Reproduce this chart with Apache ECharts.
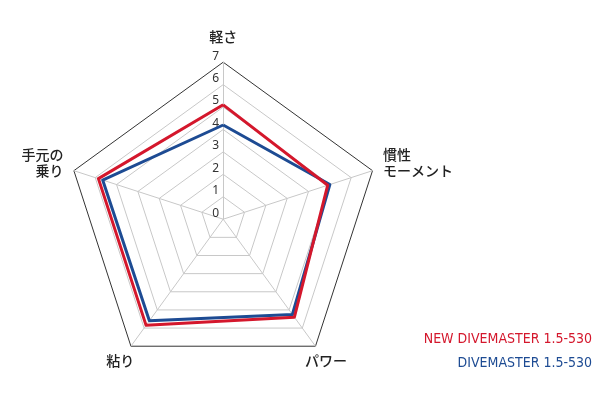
<!DOCTYPE html>
<html><head><meta charset="utf-8">
<script src="https://cdn.jsdelivr.net/npm/echarts@6/dist/echarts.min.js"></script>
<style>html,body{margin:0;padding:0;background:#fff}#c{width:600px;height:400px}</style>
</head><body><div id="c"></div>
<script>
// indicators listed counter-clockwise from the top (ECharts radar order)
const indicators = ['軽さ', '手元の\n乗り', '粘り', 'パワー', '慣性\nモーメント'];
const centeredNames = ['軽さ', '粘り', 'パワー'];
const axisMax = 7;
const seriesNames = ['NEW DIVEMASTER 1.5-530', 'DIVEMASTER 1.5-530'];
const newValues = [5.1, 5.85, 5.85, 5.4, 4.9];
const oldValues = [4.2, 5.65, 5.6, 5.25, 5.0];
const colors = ['#d4172c', '#1d4b93'];

const chart = echarts.init(document.getElementById('c'));
const ringColors = ['#c8c8c8','#c8c8c8','#c8c8c8','#c8c8c8','#c8c8c8','#c8c8c8','#c8c8c8','#333333'];
const nameFont = { color: '#222', fontSize: 14, fontWeight: 500, fontFamily: 'Noto Sans CJK JP', lineHeight: 16 };
const common = { center: ['37.2%', '54.8%'], radius: 157, startAngle: 90, splitNumber: 7, shape: 'polygon' };
chart.setOption({
  animation: false,
  radar: [
    Object.assign({}, common, {
      nameGap: 11,
      axisName: Object.assign({}, nameFont, {
        formatter: n => n ? n + '\n{s|}' : '',
        rich: { s: { lineHeight: 10, fontSize: 10 } }
      }),
      indicator: indicators.map((n, i) => ({
        name: centeredNames.includes(n) ? '' : n, min: 0, max: axisMax,
        axisLabel: i === 0 ? { show: true, showMinLabel: true, showMaxLabel: true, hideOverlap: false, color: '#333', fontSize: 12, fontFamily: 'Noto Sans', margin: 4, verticalAlign: 'bottom' } : { show: false }
      })),
      axisLine: { lineStyle: { color: '#c8c8c8', width: 1 } },
      splitLine: { lineStyle: { color: ringColors, width: 1 } },
      splitArea: { show: false },
      axisTick: { show: false },
      axisLabel: { show: false }
    }),
    Object.assign({}, common, {
      nameGap: 18,
      axisName: Object.assign({}, nameFont, { align: 'center' }),
      indicator: indicators.map(n => ({ name: centeredNames.includes(n) ? n : '', min: 0, max: axisMax })),
      axisLine: { show: false },
      splitLine: { show: false },
      splitArea: { show: false },
      axisTick: { show: false },
      axisLabel: { show: false }
    })
  ],
  legend: [0, 1].map(i => ({
    data: [{ name: seriesNames[i], textStyle: { color: colors[i] } }],
    right: 3, top: i === 0 ? 327 : 351,
    icon: 'rect', itemWidth: 0, itemHeight: 0, itemGap: 0,
    selectedMode: false,
    textStyle: { fontSize: 14, fontFamily: 'DejaVu Sans Condensed', padding: 0 }
  })),
  series: [{
    type: 'radar',
    radarIndex: 0,
    symbol: 'none',
    data: [
      { name: seriesNames[1], value: oldValues, lineStyle: { color: colors[1], width: 3 }, itemStyle: { color: colors[1] } },
      { name: seriesNames[0], value: newValues, lineStyle: { color: colors[0], width: 3 }, itemStyle: { color: colors[0] } }
    ]
  }]
});
</script></body></html>
